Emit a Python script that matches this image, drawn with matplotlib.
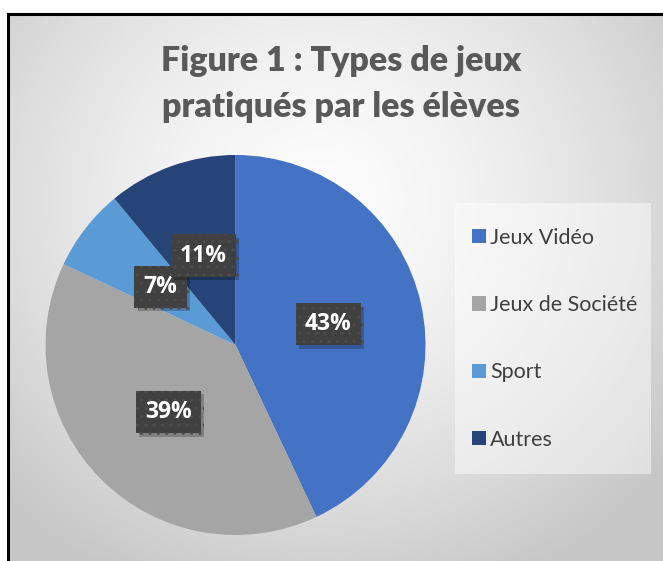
import numpy as np
import matplotlib.pyplot as plt
import matplotlib.patheffects as pe
from matplotlib.patches import Rectangle, Patch

# Data
categories = ['Jeux Vidéo', 'Jeux de Société', 'Sport', 'Autres']
values = [43, 39, 7, 11]
colors = ['#4472C4', '#A5A5A5', '#5B9BD5', '#264478']
title = 'Figure 1 : Types de jeux\npratiqués par les élèves'

W, H = 663, 561
fig = plt.figure(figsize=(W / 100, H / 100), dpi=100)
fig.patch.set_facecolor('white')

# radial grey gradient background inside the chart frame
bg = fig.add_axes([0, 0, 1, 1], zorder=-5)
yy, xx = np.mgrid[0:H, 0:W]
d = np.hypot(xx - 320, (yy - 200) * 1.05) / 440
d = np.clip(d, 0, 1)
shade = 0.99 - 0.21 * d ** 1.5
img = np.dstack([shade, shade, shade])
img[:14, :, :] = 1.0
img[:, :8, :] = 1.0
bg.imshow(img, extent=(0, W, H, 0), aspect='auto', interpolation='bilinear')
bg.set_xlim(0, W)
bg.set_ylim(H, 0)
bg.axis('off')
bg.plot([8, 8], [H + 5, 14], color='black', lw=2.2, solid_capstyle='projecting')
bg.plot([8, W + 5], [14, 14], color='black', lw=2.2, solid_capstyle='projecting')

# Title
fig.text(341 / W, 1 - 84 / H, title, ha='center', va='center',
         fontsize=24.5, fontweight='heavy', color='#595959', family='Lato',
         linespacing=1.55)

# Pie
ax = fig.add_axes([(235.5 - 190) / W, (561 - 535) / H, 380 / W, 380 / H])
wedges, texts, autotexts = ax.pie(values, colors=colors, startangle=90,
                                  counterclock=False, radius=1,
                                  autopct='%1.0f%%', pctdistance=0.5,
                                  wedgeprops=dict(linewidth=0))
ax.set_xlim(-1, 1)
ax.set_ylim(-1, 1)
ax.set_aspect('equal')

for t in autotexts:
    t.set_color('white')
    t.set_fontsize(16.5)
    t.set_fontweight('bold')
    t.set_family('Open Sans')
    t.set_bbox(dict(boxstyle='square,pad=0.4', fc='#404040', ec='#4c4c4c',
                    lw=0, hatch='..'))
    t.get_bbox_patch().set_path_effects([
        pe.SimplePatchShadow(offset=(2.5, -2.5), shadow_rgbFace='black', alpha=0.22),
        pe.Normal()])

# Legend box
fig.patches.append(Rectangle((455 / W, 1 - 474 / H), 196 / W, 271 / H,
                             transform=fig.transFigure, fc='white', alpha=0.45,
                             ec='none', zorder=1))
handles = [Patch(facecolor=c, edgecolor='none') for c in colors]
leg = fig.legend(handles, categories, loc='upper left',
                 bbox_to_anchor=(463 / W, 1 - 219 / H), frameon=False,
                 labelspacing=2.2, handlelength=0.65, handleheight=0.65,
                 handletextpad=0.2, borderaxespad=0,
                 prop={'family': 'Lato', 'size': 15.5})
for t in leg.get_texts():
    t.set_color('#404040')

fig.savefig('out.png', dpi=100)
